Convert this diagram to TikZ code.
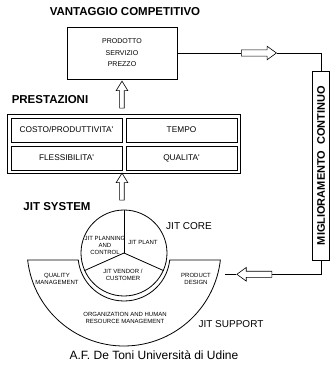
\documentclass[tikz,border=0pt]{standalone}
\usepackage{fontspec}
\setmainfont{Liberation Sans}
\usetikzlibrary{shapes.arrows,fit}

\tikzset{
	box/.style={draw, line width=0.8pt, inner sep=0pt},
	cell/.style={box, minimum width=111pt, minimum height=24pt, font=\fontsize{8.3}{10}\selectfont},
	head/.style={font=\fontsize{11.5}{13}\selectfont\bfseries},
	small/.style={font=\fontsize{6}{7}\selectfont, align=center, inner sep=0pt},
	plain/.style={font=\fontsize{10}{12}\selectfont},
	uparrow/.style={draw, single arrow, rotate=90, line width=0.6pt, inner xsep=0pt, inner ysep=2pt,
		single arrow head extend=3.5pt, single arrow tip angle=63, minimum height=27pt},
	sidearrow/.style={draw, single arrow, line width=0.6pt, inner xsep=0pt, inner ysep=2.8pt,
		single arrow head extend=3.7pt, single arrow tip angle=72, minimum height=35pt},
}

\begin{document}
\begin{tikzpicture}[x=1pt,y=1pt,line width=0.8pt]
		\useasboundingbox (0,0) rectangle (330,368);
		% vantaggio competitivo
		\node[head] (vctitle) at (125,356) {VANTAGGIO COMPETITIVO};
		\node[box, minimum width=110pt, minimum height=52pt, align=center, font=\fontsize{7}{11.5}\selectfont] (vantaggio) at (122,315) {PRODOTTO\\SERVIZIO\\PREZZO};
		\node[uparrow] (up1) at (122,271.5) {};
		% prestazioni
		\node[head] (prtitle) at (50,268) {PRESTAZIONI};
		\node[cell] (costo) at (66.5,238) {COSTO/PRODUTTIVITA\textquotesingle};
		\node[cell] (tempo) at (181.5,238) {TEMPO};
		\node[cell] (flex) at (66.5,210) {FLESSIBILITA\textquotesingle};
		\node[cell] (qual) at (181.5,210) {QUALITA\textquotesingle};
		\node[box, fit=(costo)(qual), inner sep=3pt] (prest) {};
		\node[uparrow] (up2) at (122,179.5) {};
		% jit system
		\node[head] (jittitle) at (57,161) {JIT SYSTEM};
		\draw ([shift={(186.5:97)}]124,119) arc[start angle=186.5, end angle=353.5, radius=97]
			-- ([shift={(353.8:46)}]124,113) arc[start angle=353.8, end angle=186.2, radius=46] -- cycle;
		\node[draw, circle, minimum size=86pt, inner sep=0pt] (core) at (124,115) {};
		\draw (core.center) -- (core.90);
		\draw (core.center) -- (core.204);
		\draw (core.center) -- (core.336);
		\node[small] (planning) at (105,123) {JIT PLANNING\\AND\\CONTROL};
		\node[small] (plant) at (143,126) {JIT PLANT};
		\node[small] (vendor) at (123,93) {JIT VENDOR /\\CUSTOMER};
		\node[small] (quality) at (57,89) {QUALITY\\MANAGEMENT};
		\node[small] (design) at (196,89) {PRODUCT\\DESIGN};
		\node[small] (hrm) at (125,50) {ORGANIZATION AND HUMAN\\RESOURCE MANAGEMENT};
		\node[plain] (corelabel) at (189,142) {JIT CORE};
		\node[plain] (suplabel) at (231,44) {JIT SUPPORT};
		\node[font=\fontsize{12}{14}\selectfont] (credit) at (154,13) {A.F. De Toni Università di Udine};
		% miglioramento continuo
		\node[box, minimum width=17pt, minimum height=189pt] (mc) at (321,202.5)
			{\rotatebox{90}{\fontsize{11}{13}\selectfont\bfseries MIGLIORAMENTO\ \ CONTINUO}};
		\coordinate (fbtop) at (321,315);
		\coordinate (fbbot) at (321,93.7);
		\coordinate (fbend) at (225,93.7);
		\node[sidearrow] (toparrow) at (256.8,315) {};
		\node[sidearrow, rotate=180] (botarrow) at (256.5,93.7) {};
		\draw (vantaggio.east) -- (toparrow.tail);
		\draw (toparrow.tip) -- (fbtop) -- (mc.north);
		\draw (mc.south) -- (fbbot) -- (botarrow.tail);
		\draw (botarrow.tip) -- (fbend);
\end{tikzpicture}
\end{document}
